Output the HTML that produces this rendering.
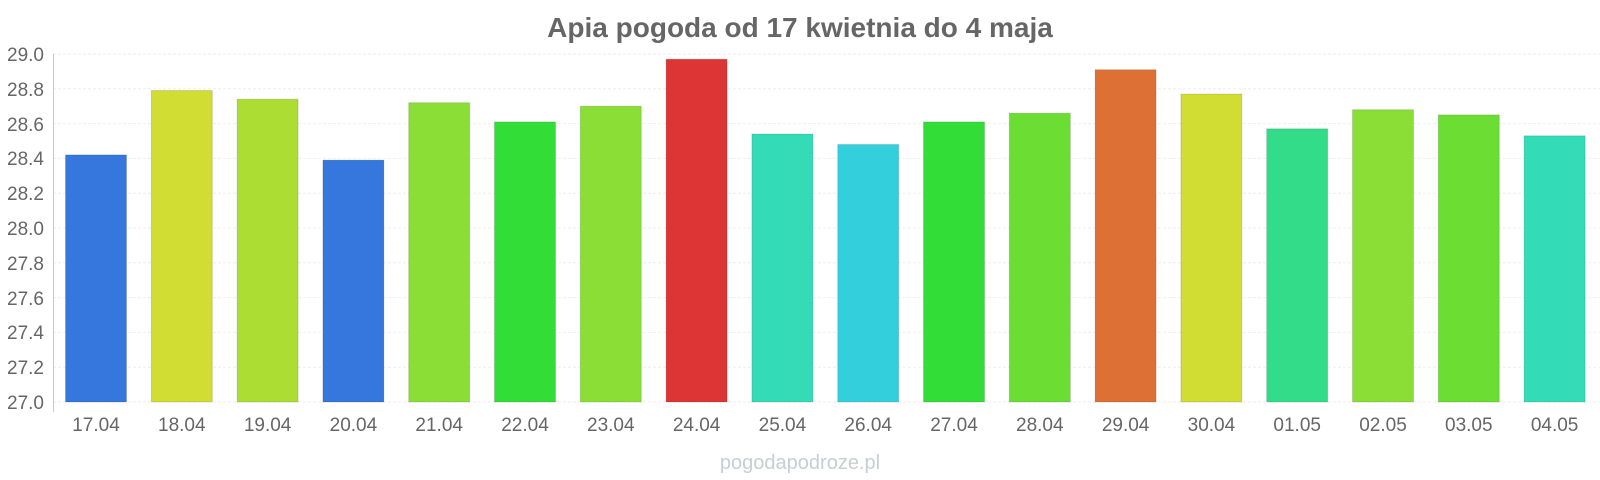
<!DOCTYPE html>
<html><head><meta charset="utf-8"><style>
html,body{margin:0;padding:0;background:#fff;}
svg{display:block;font-family:"Liberation Sans",sans-serif;}
</style></head><body>
<svg width="1600" height="480" viewBox="0 0 1600 480">
<text x="800" y="37" text-anchor="middle" font-size="28" font-weight="bold" fill="#666">Apia pogoda od 17 kwietnia do 4 maja</text>
<g stroke="#eee" stroke-width="1" stroke-dasharray="3,2">
<line x1="53" x2="1600" y1="54" y2="54"/><line x1="53" x2="1600" y1="88.8" y2="88.8"/><line x1="53" x2="1600" y1="123.6" y2="123.6"/><line x1="53" x2="1600" y1="158.4" y2="158.4"/><line x1="53" x2="1600" y1="193.2" y2="193.2"/><line x1="53" x2="1600" y1="228" y2="228"/><line x1="53" x2="1600" y1="262.8" y2="262.8"/><line x1="53" x2="1600" y1="297.6" y2="297.6"/><line x1="53" x2="1600" y1="332.4" y2="332.4"/><line x1="53" x2="1600" y1="367.2" y2="367.2"/><line x1="53" x2="1600" y1="402" y2="402"/>
</g>
<line x1="53.5" x2="53.5" y1="54" y2="412" stroke="#c0ccd8"/>
<g font-size="19" fill="#666" text-anchor="end">
<text x="44" y="61">29.0</text><text x="44" y="96">28.8</text><text x="44" y="131">28.6</text><text x="44" y="165">28.4</text><text x="44" y="200">28.2</text><text x="44" y="235">28.0</text><text x="44" y="270">27.8</text><text x="44" y="305">27.6</text><text x="44" y="339">27.4</text><text x="44" y="374">27.2</text><text x="44" y="409">27.0</text>
</g>
<g stroke="rgba(0,0,0,0.12)" stroke-width="1">
<rect x="65.5" y="154.9" width="61" height="247.1" fill="#3577dd"/>
<rect x="151.3" y="90.5" width="61" height="311.5" fill="#d1dd33"/>
<rect x="237.1" y="99.2" width="61" height="302.8" fill="#abdd33"/>
<rect x="322.9" y="160.1" width="61" height="241.9" fill="#3577dd"/>
<rect x="408.7" y="102.7" width="61" height="299.3" fill="#8ade35"/>
<rect x="494.5" y="121.9" width="61" height="280.1" fill="#33dd38"/>
<rect x="580.3" y="106.2" width="61" height="295.8" fill="#8ade35"/>
<rect x="666.1" y="59.2" width="61" height="342.8" fill="#dd3535"/>
<rect x="751.9" y="134" width="61" height="268" fill="#33dbb6"/>
<rect x="837.7" y="144.5" width="61" height="257.5" fill="#33cfdd"/>
<rect x="923.5" y="121.9" width="61" height="280.1" fill="#33dd38"/>
<rect x="1009.3" y="113.2" width="61" height="288.8" fill="#6bdd33"/>
<rect x="1095.1" y="69.7" width="61" height="332.3" fill="#dd7135"/>
<rect x="1180.9" y="94" width="61" height="308" fill="#d1dd33"/>
<rect x="1266.7" y="128.8" width="61" height="273.2" fill="#33dc89"/>
<rect x="1352.5" y="109.7" width="61" height="292.3" fill="#8ade35"/>
<rect x="1438.3" y="114.9" width="61" height="287.1" fill="#6bdd33"/>
<rect x="1524.1" y="135.8" width="61" height="266.2" fill="#33dbb6"/>
</g>
<g font-size="19" fill="#666" text-anchor="middle">
<text x="96" y="431">17.04</text><text x="181.8" y="431">18.04</text><text x="267.6" y="431">19.04</text><text x="353.4" y="431">20.04</text><text x="439.2" y="431">21.04</text><text x="525" y="431">22.04</text><text x="610.8" y="431">23.04</text><text x="696.6" y="431">24.04</text><text x="782.4" y="431">25.04</text><text x="868.2" y="431">26.04</text><text x="954" y="431">27.04</text><text x="1039.8" y="431">28.04</text><text x="1125.6" y="431">29.04</text><text x="1211.4" y="431">30.04</text><text x="1297.2" y="431">01.05</text><text x="1383" y="431">02.05</text><text x="1468.8" y="431">03.05</text><text x="1554.6" y="431">04.05</text>
</g>
<text x="800" y="469" text-anchor="middle" font-size="20" fill="#c4d0d0">pogodapodroze.pl</text>
</svg>
</body></html>
